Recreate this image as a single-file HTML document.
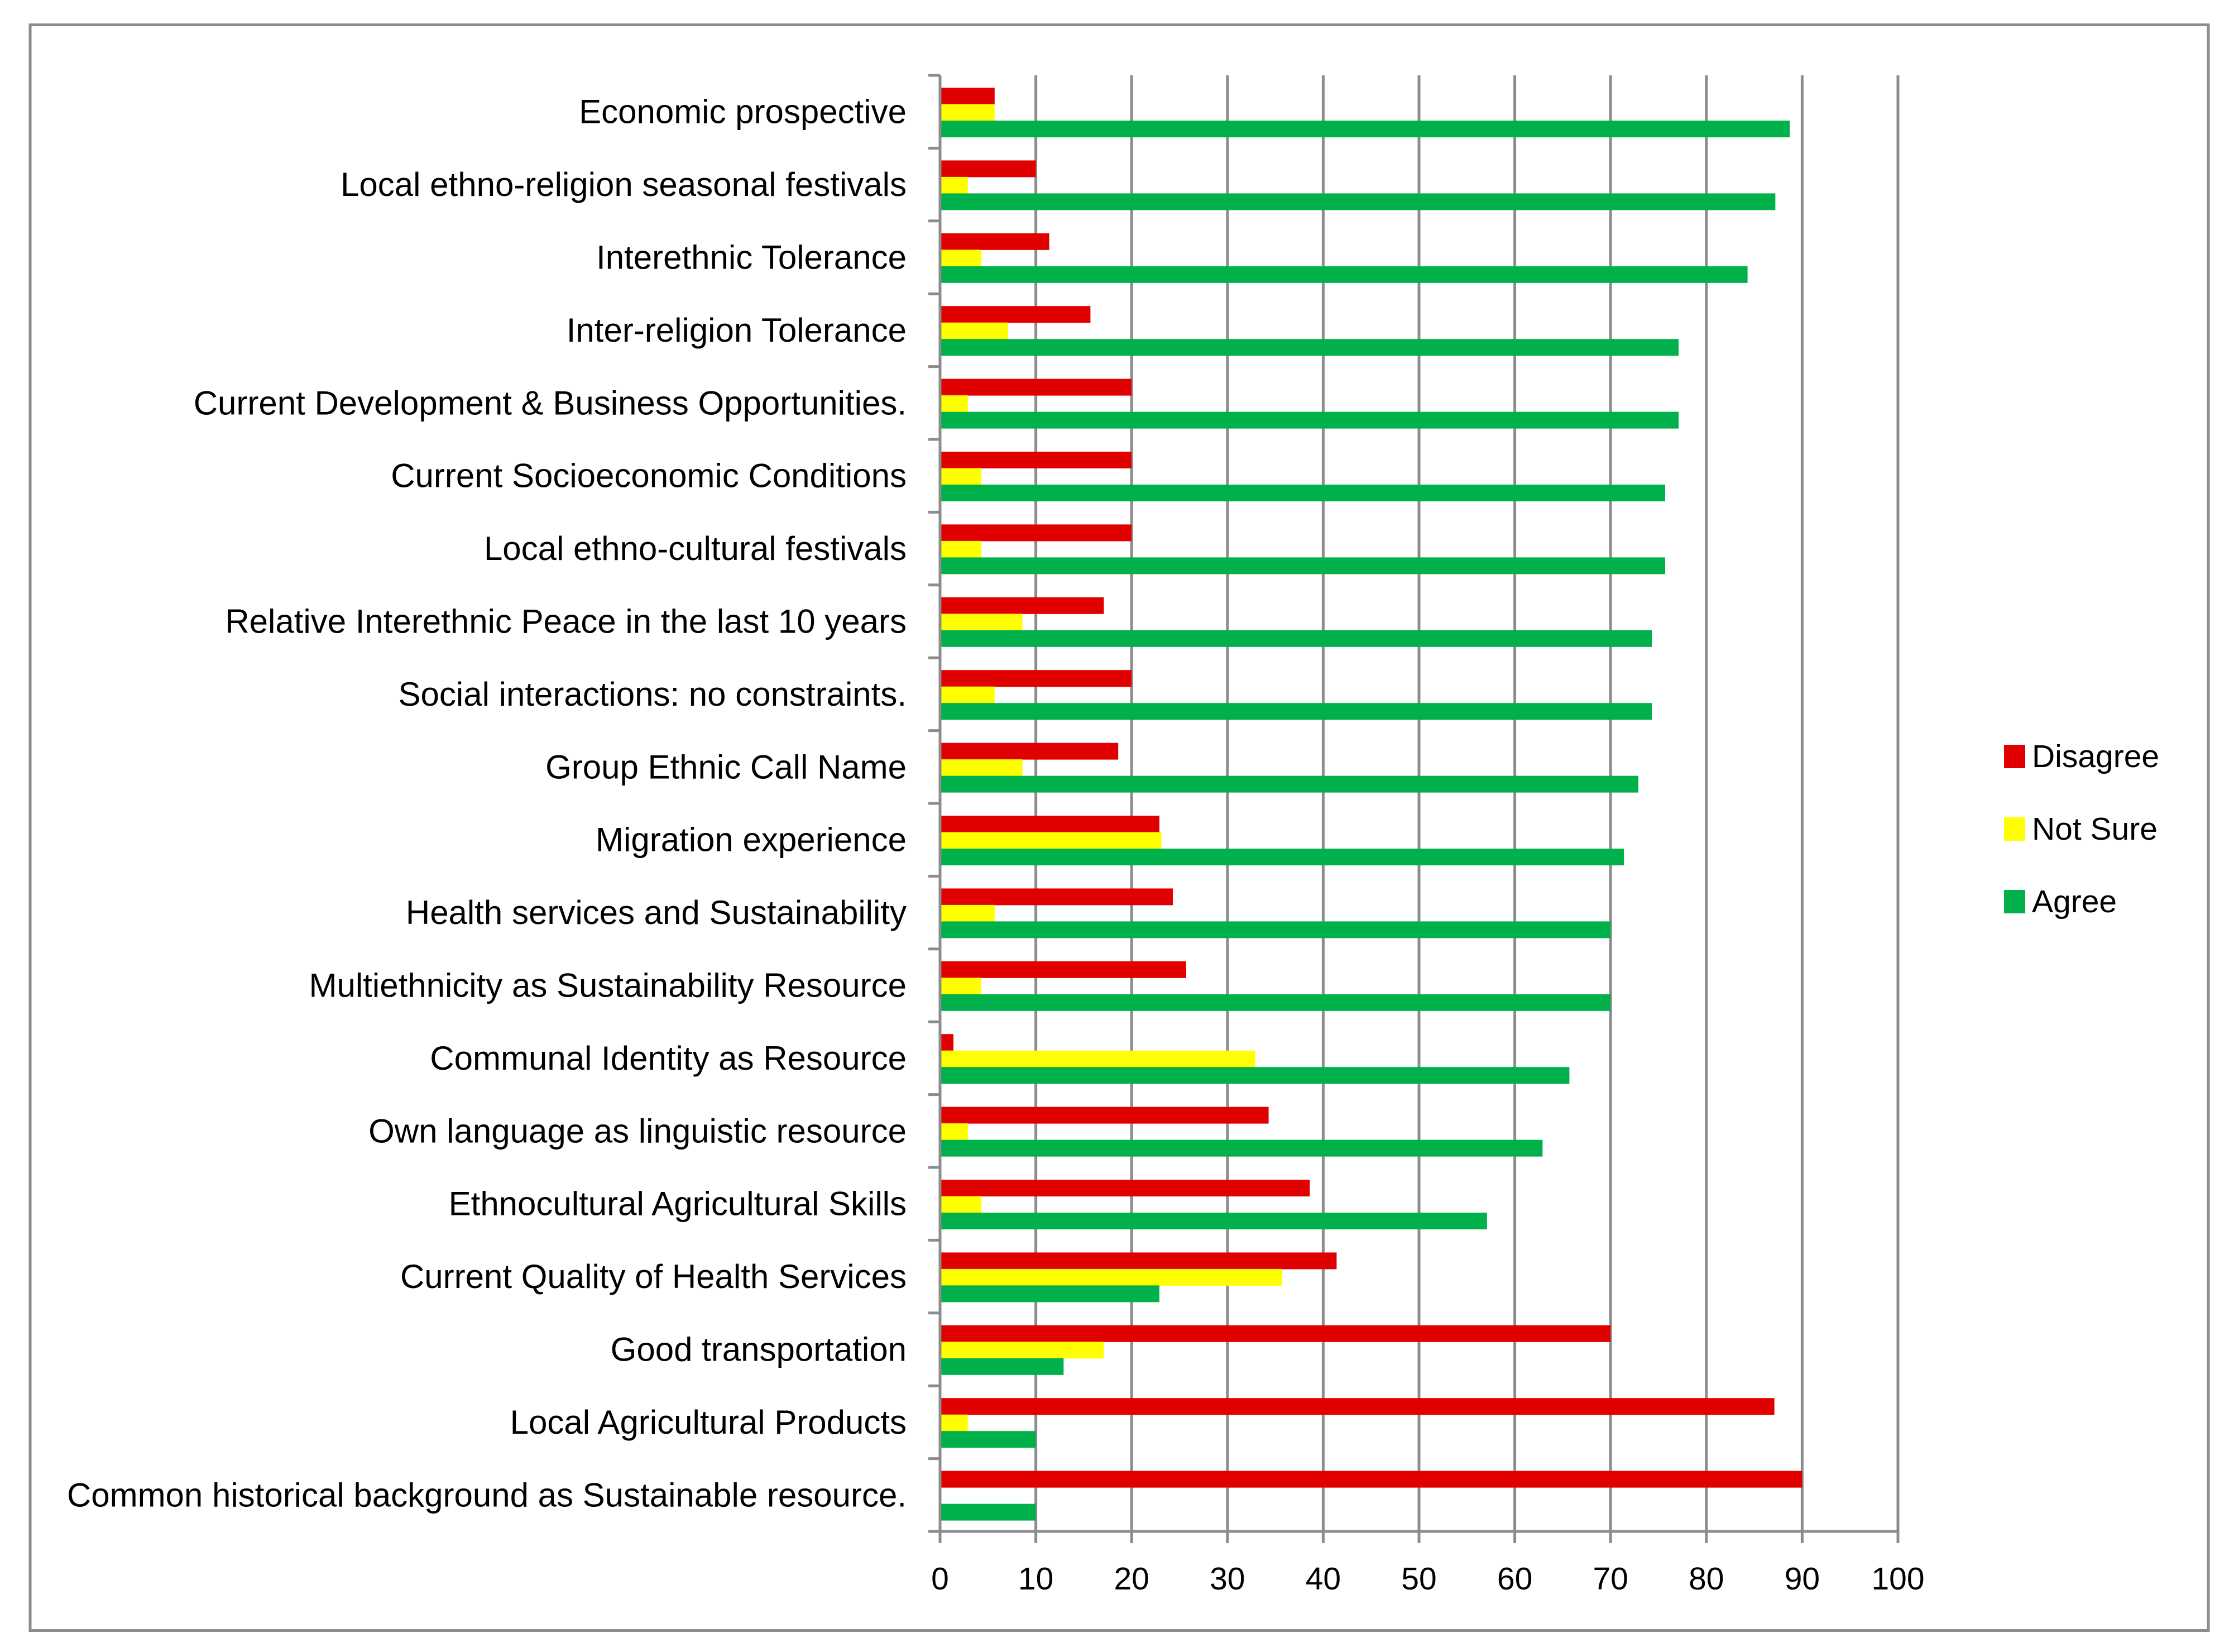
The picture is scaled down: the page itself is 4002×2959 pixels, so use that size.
<!DOCTYPE html>
<html><head><meta charset="utf-8"><style>
html,body{margin:0;padding:0;background:#fff;}
svg{display:block;}
text{font-family:"Liberation Sans",sans-serif;fill:#000;}
</style></head><body>
<svg id="chart" width="4002" height="2959" viewBox="0 0 4002 2959" xmlns="http://www.w3.org/2000/svg">
<rect x="54" y="44.5" width="3902" height="2876" fill="#fff" stroke="#8c8c8c" stroke-width="5"/>
<g id="grid"></g><g id="bars"></g><g id="axes"></g><g id="labels"></g>
<g id="legend">
<rect x="3590" y="1334" width="38" height="42" fill="#e00000"/>
<text x="3640" y="1355" font-size="57" dominant-baseline="central">Disagree</text>
<rect x="3590" y="1464" width="38" height="42" fill="#ffff00"/>
<text x="3640" y="1485" font-size="57" dominant-baseline="central">Not Sure</text>
<rect x="3590" y="1594" width="38" height="42" fill="#00b04a"/>
<text x="3640" y="1615" font-size="57" dominant-baseline="central">Agree</text>
</g>
</svg>
<script>
const categories = ["Economic prospective","Local ethno-religion seasonal festivals","Interethnic Tolerance","Inter-religion Tolerance","Current Development & Business Opportunities.","Current Socioeconomic Conditions","Local ethno-cultural festivals","Relative Interethnic Peace in the last 10 years","Social interactions: no constraints.","Group Ethnic Call Name","Migration experience","Health services and Sustainability","Multiethnicity as Sustainability Resource","Communal Identity as Resource","Own language as linguistic resource","Ethnocultural Agricultural Skills","Current Quality of Health Services ","Good transportation","Local Agricultural Products","Common historical background as Sustainable resource."];
const disagree = [5.7,10,11.4,15.7,20,20,20,17.1,20,18.6,22.9,24.3,25.7,1.4,34.3,38.6,41.4,70,87.1,90];
const notSure = [5.7,2.9,4.3,7.1,2.9,4.3,4.3,8.6,5.7,8.6,23.1,5.7,4.3,32.9,2.9,4.3,35.7,17.1,2.9,0];
const agree = [88.7,87.2,84.3,77.1,77.1,75.7,75.7,74.3,74.3,72.9,71.4,70,70,65.7,62.9,57.1,22.9,12.9,10,10];
const xTicks = [0,10,20,30,40,50,60,70,80,90,100];

const NS="http://www.w3.org/2000/svg";
const X0=1684, X1=3400, Y0=135, Y1=2743;
const band=(Y1-Y0)/categories.length;
const barH=29.5, groupOff=22;
function xs(v){return X0+(v/100)*(X1-X0);}
function ys(i){return Y0+i*band;}
function mk(tag,attrs,parent){const e=document.createElementNS(NS,tag);for(const k in attrs)e.setAttribute(k,attrs[k]);parent.appendChild(e);return e;}
const grid=document.getElementById('grid'),bars=document.getElementById('bars'),axes=document.getElementById('axes'),labels=document.getElementById('labels');
xTicks.forEach(t=>{
  const l=mk('line',{x1:xs(t),x2:xs(t),y1:Y0,y2:Y1+21,stroke:'#8c8c8c','stroke-width':5},grid);
  
  
  const tx=mk('text',{x:xs(t),y:2828,'font-size':57,'text-anchor':'middle','dominant-baseline':'central'},labels);
  tx.textContent=t;
  
  
});
const series=[[disagree,'#e00000','disagree'],[notSure,'#ffff00','not-sure'],[agree,'#00b04a','agree']];
categories.forEach((c,i)=>{
  series.forEach((s,j)=>{
    const v=s[0][i];
    const r=mk('rect',{x:X0,y:ys(i)+groupOff+j*barH,width:Math.max(0,xs(v)-X0),height:barH+0.5,fill:s[1]},bars);
    
    
  });
  const tk=mk('line',{x1:X0-21,x2:X0,y1:ys(i),y2:ys(i),stroke:'#8c8c8c','stroke-width':5},axes);
  
  
  const tx=mk('text',{x:1624,y:ys(i)+band/2,'font-size':60,'text-anchor':'end','dominant-baseline':'central'},labels);
  tx.textContent=c;
  
  
});
const ya=mk('line',{x1:X0,x2:X0,y1:Y0,y2:Y1,stroke:'#8c8c8c','stroke-width':5},axes);


const xa=mk('line',{x1:X0-21,x2:X1+2,y1:Y1,y2:Y1,stroke:'#8c8c8c','stroke-width':5},axes);


const lt=mk('line',{x1:X0-21,x2:X0,y1:Y1,y2:Y1,stroke:'#8c8c8c','stroke-width':5},axes);


</script>
</body></html>
